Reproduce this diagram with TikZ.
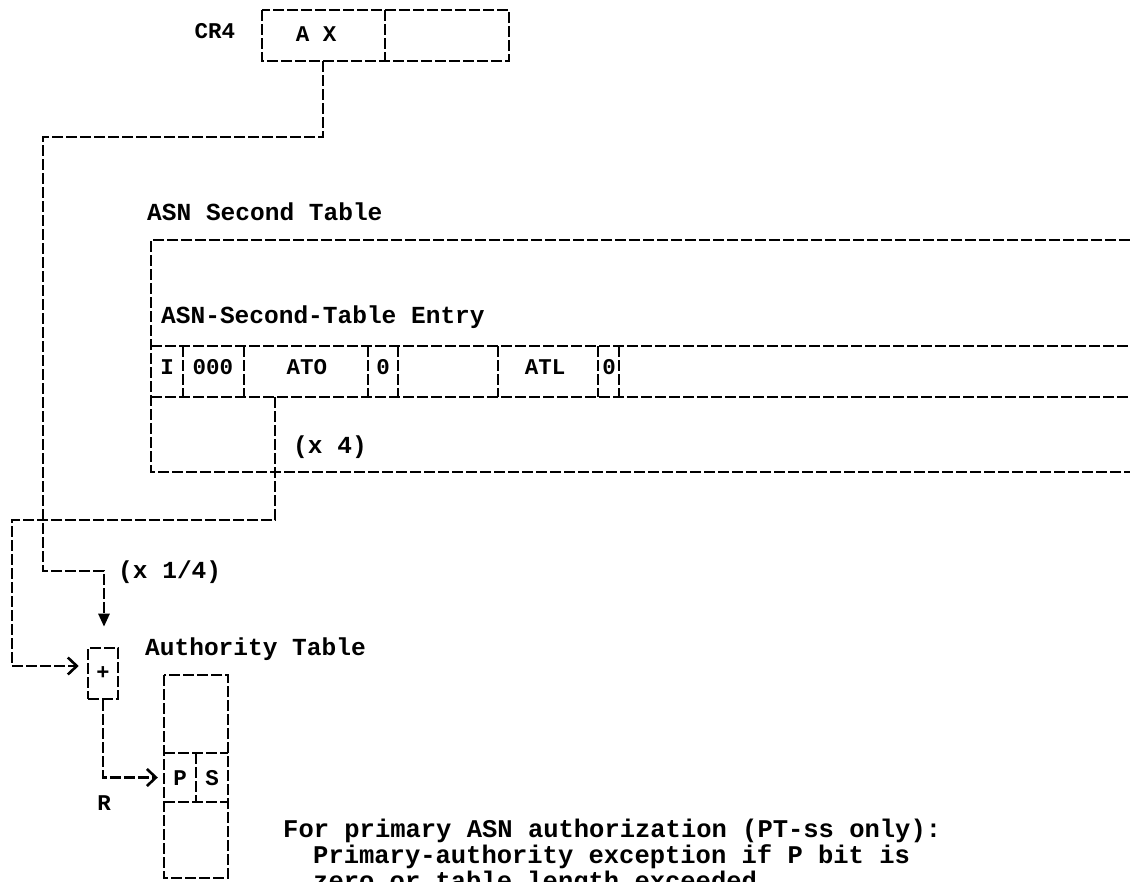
\documentclass[tikz,border=0pt]{standalone}
\usepackage{fontspec}
\setmonofont{Liberation Mono}
\usetikzlibrary{arrows.meta}
\begin{document}
\begin{tikzpicture}[x=1pt,y=-1pt,
  ln/.style={line width=2.6pt, dash pattern=on 11pt off 3pt},
  txt/.style={font=\ttfamily\bfseries\fontsize{24.5}{27}\selectfont, inner sep=0pt, anchor=base west},
  note/.style={font=\ttfamily\bfseries\fontsize{25.5}{27}\selectfont, inner sep=0pt, anchor=base west},
  fld/.style={font=\ttfamily\bfseries\fontsize{22.5}{25}\selectfont, inner sep=0pt, anchor=base},
  openarr/.style={-{Straight Barb[length=9pt,width=17pt,line width=2.6pt]}},
  downarr/.style={-{Triangle[length=13pt,width=11pt]}},
]
\useasboundingbox (0,0) rectangle (1130,881);

% CR4 register
\draw[ln] (262,10) rectangle (509,61);
\draw[ln] (385,10) -- (385,61);
\node[fld] (cr4) at (215,38) {CR4};
\node[fld] (ax) at (316,41) {A X};
\coordinate (axb) at (323,61);
\coordinate (c1) at (323,137);
\coordinate (c2) at (43,137);
\coordinate (c3) at (43,571);
\coordinate (c4) at (104,571);

% ASN second table
\node[txt] (asntab) at (147,220) {ASN Second Table};
\node[txt] (asnent) at (161,323) {ASN-Second-Table Entry};
\draw[ln] (1130,240) -- (151,240) -- (151,472) -- (1130,472);
\draw[ln] (151,346) -- (1130,346);
\draw[ln] (151,397) -- (1130,397);
\foreach \xx in {183,244,368,398,498,598,619}
  \draw[ln] (\xx,346) -- (\xx,397);
\node[fld] (fi) at (167,374) {I};
\node[fld] (f000) at (213,374) {000};
\node[fld] (fato) at (307,374) {ATO};
\node[fld] (f0a) at (383,374) {0};
\node[fld] (fatl) at (545,374) {ATL};
\node[fld] (f0b) at (609,374) {0};
\coordinate (atob) at (275,397);
\coordinate (c6) at (275,520);
\coordinate (c7) at (12,520);
\coordinate (c8) at (12,666);
\node[txt] (x4) at (293,453) {(x 4)};
\node[txt] (x14) at (118,578) {(x 1/4)};

% adder
\node[draw, ln, minimum width=30pt, minimum height=51pt, inner sep=0pt,
  font=\ttfamily\bfseries\fontsize{22}{24}\selectfont] (plus) at (103,673.5) {+};

% authority table
\node[txt] (authtab) at (145,655) {Authority Table};
\draw[ln] (164,675) rectangle (228,878);
\draw[ln] (164,753) -- (228,753);
\draw[ln] (164,802) -- (228,802);
\draw[ln] (196,753) -- (196,802);
\node[inner sep=0pt, minimum width=64pt, minimum height=49pt] (psrow) at (196,777.5) {};
\node[fld] (pp) at (180,785) {P};
\node[fld] (ss) at (212,785) {S};
\node[fld] (rr) at (104,810) {R};

% connectors
\draw[ln, downarr, shorten >=20pt] (axb) -- (c1) -- (c2) -- (c3) -- (c4) -- (c4 |- plus.north);
\draw[ln, openarr, shorten >=8pt] (atob) -- (c6) -- (c7) -- (c8) -- (plus.west |- c8);
\draw[ln, openarr, shorten >=6pt] (plus.south) |- (psrow.west);

% note
\node[note] (n1) at (283,837) {For primary ASN authorization (PT-ss only):};
\node[note] (n2) at (313,863) {Primary-authority exception if P bit is};
\node[note] (n3) at (313,889) {zero or table length exceeded.};
\end{tikzpicture}
\end{document}
